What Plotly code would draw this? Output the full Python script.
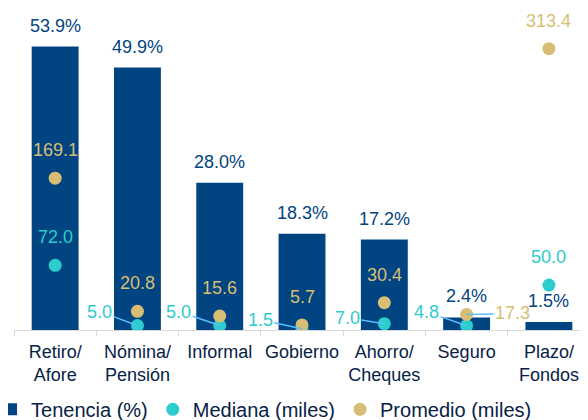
import plotly.graph_objects as go

categories = ["Retiro/<br>Afore", "Nómina/<br>Pensión", "Informal", "Gobierno",
              "Ahorro/<br>Cheques", "Seguro", "Plazo/<br>Fondos"]
tenencia = [53.9, 49.9, 28.0, 18.3, 17.2, 2.4, 1.5]
mediana = [72.0, 5.0, 5.0, 1.5, 7.0, 4.8, 50.0]
promedio = [169.1, 20.8, 15.6, 5.7, 30.4, 17.3, 313.4]

NAVY = "#004481"
DARK = "#072146"
AQUA = "#2DCCCD"
SAND = "#D8BE75"
LEADER = "#5BBEFF"
FONT = "Liberation Sans, Arial, sans-serif"

# label placement (pixel offsets) for small values that use leader lines
mediana_leader = {1: (-38, -14), 2: (-41, -14), 3: (-42, -9), 4: (-37, -6), 5: (-40, -14)}
promedio_leader = {5: (46, -1)}

fig = go.Figure()
fig.add_trace(go.Bar(x=categories, y=tenencia, name="Tenencia (%)",
                     marker=dict(color=NAVY, line=dict(width=0)), yaxis="y"))
fig.add_trace(go.Scatter(x=categories, y=mediana, name="Mediana (miles)", mode="markers",
                         marker=dict(color=AQUA, size=13), yaxis="y2"))
fig.add_trace(go.Scatter(x=categories, y=promedio, name="Promedio (miles)", mode="markers",
                         marker=dict(color=SAND, size=13), yaxis="y2"))

ann = []
for c, v in zip(categories, tenencia):
    ann.append(dict(x=c, y=v, xref="x", yref="y", text=f"{v:.1f}%", showarrow=False,
                    yanchor="middle", yshift=21, font=dict(size=18, color=NAVY, family=FONT)))
for i, (c, v) in enumerate(zip(categories, mediana)):
    if i in mediana_leader:
        ax, ay = mediana_leader[i]
        ann.append(dict(x=c, y=v, xref="x", yref="y2", text=f"{v:.1f}", showarrow=True,
                        ax=ax, ay=ay, arrowhead=0, arrowwidth=1.5, arrowcolor=LEADER,
                        standoff=0, startstandoff=0,
                        font=dict(size=18, color=AQUA, family=FONT)))
    else:
        ann.append(dict(x=c, y=v, xref="x", yref="y2", text=f"{v:.1f}", showarrow=False,
                        yanchor="middle", yshift=28, font=dict(size=18, color=AQUA, family=FONT)))
for i, (c, v) in enumerate(zip(categories, promedio)):
    if i in promedio_leader:
        ax, ay = promedio_leader[i]
        ann.append(dict(x=c, y=v, xref="x", yref="y2", text=f"{v:.1f}", showarrow=True,
                        ax=ax, ay=ay, arrowhead=0, arrowwidth=1.5, arrowcolor=LEADER,
                        standoff=0, startstandoff=0,
                        font=dict(size=18, color=SAND, family=FONT)))
    else:
        ann.append(dict(x=c, y=v, xref="x", yref="y2", text=f"{v:.1f}", showarrow=False,
                        yanchor="middle", yshift=28, font=dict(size=18, color=SAND, family=FONT)))

# the page body has an 8px margin, so the figure is 8px smaller than the window
fig.update_layout(
    width=580, height=412,
    margin=dict(l=6, r=0, t=2, b=90, autoexpand=False),
    paper_bgcolor="white", plot_bgcolor="white",
    bargap=0.43,
    font=dict(family=FONT, color=DARK),
    xaxis=dict(type="category", range=[-0.5, 6.475], showline=True, linecolor="#D9D9D9",
               linewidth=1, ticks="outside", tickson="boundaries", ticklen=5,
               tickcolor="#D9D9D9", tickangle=0, automargin=False, ticklabelstandoff=5,
               tickfont=dict(size=18, color=DARK, family=FONT),
               showgrid=False, zeroline=False),
    yaxis=dict(range=[0, 60.84], visible=False, showgrid=False, zeroline=False),
    yaxis2=dict(range=[0, 356.5], overlaying="y", visible=False, showgrid=False,
                zeroline=False),
    legend=dict(orientation="h", x=-0.040, xanchor="left", y=-0.187, yanchor="top",
                font=dict(size=20, color=DARK, family=FONT), bgcolor="rgba(0,0,0,0)",
                itemwidth=30, tracegroupgap=0),
    annotations=ann,
    showlegend=True,
)

fig.write_html("out.html")
